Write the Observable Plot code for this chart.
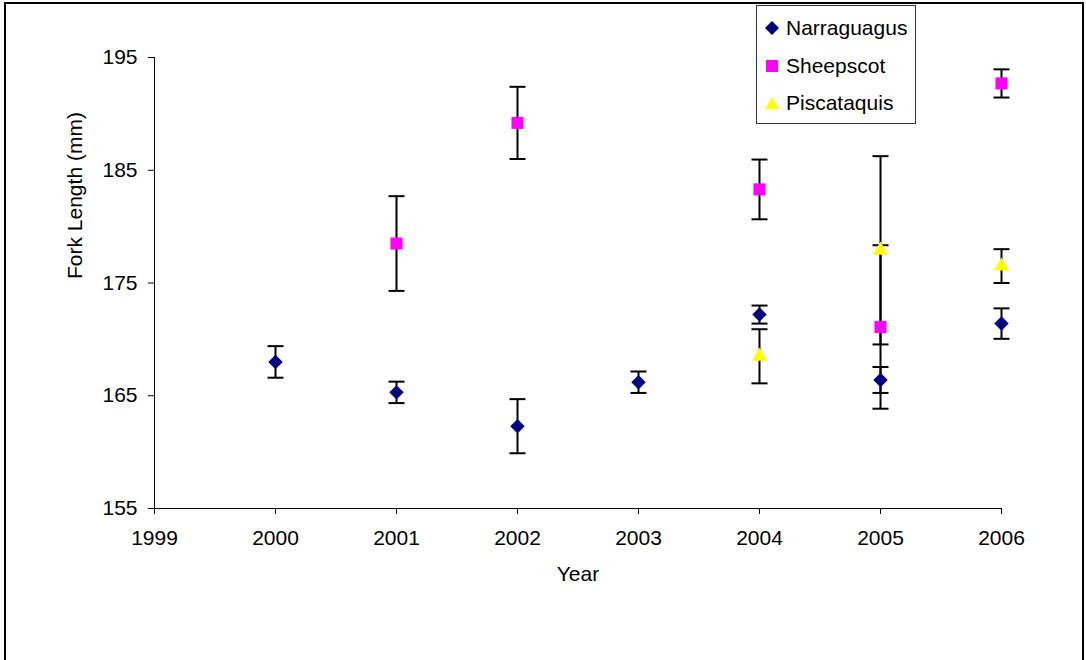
<!DOCTYPE html>
<html>
<head>
<meta charset="utf-8">
<script src="https://cdn.jsdelivr.net/npm/d3@7"></script>
<script src="https://cdn.jsdelivr.net/npm/@observablehq/plot@0.6"></script>
<style>
  html, body { margin: 0; padding: 0; background: #fff; }
  body { width: 1086px; height: 660px; position: relative; overflow: hidden; font-family: "Liberation Sans", Arial, sans-serif; }
  #chart { position: absolute; left: 0; top: 0; }
  #frame { position: absolute; left: 4px; top: 2px; width: 1076px; height: 700px; border: 2px solid #000; pointer-events: none; }
  #legend { position: absolute; left: 756px; top: 5px; width: 158px; height: 117px; border: 1px solid #333; background: #fff; }
  .item { position: absolute; left: 0; height: 26px; display: flex; align-items: center; font-size: 21px; color: #000; white-space: nowrap; }
  .item svg { margin-left: 8px; margin-right: 7px; }
</style>
</head>
<body>
<div id="chart"></div>
<div id="frame"></div>
<div id="legend"></div>
<script>
// ---- data ----
const xTicks = [1999, 2000, 2001, 2002, 2003, 2004, 2005, 2006];
const yTicks = [155, 165, 175, 185, 195];

const seriesNames = ["Narraguagus", "Sheepscot", "Piscataquis"];
const seriesColors = ["#000080", "#FF00FF", "#FFFF00"];

const narraguagusYears = [2000, 2001, 2002, 2003, 2004, 2005, 2006];
const narraguagus      = [168.0, 165.3, 162.3, 166.2, 172.2, 166.4, 171.4];
const narraguagusErr   = [1.4, 0.95, 2.4, 0.95, 0.8, 1.15, 1.35];

const sheepscotYears = [2001, 2002, 2004, 2005, 2006];
const sheepscot      = [178.5, 189.2, 183.3, 171.1, 192.7];
const sheepscotErr   = [4.2, 3.2, 2.65, 7.25, 1.25];

const piscataquisYears = [2004, 2005, 2006];
const piscataquis      = [168.5, 177.9, 176.5];
const piscataquisErr   = [2.4, 8.35, 1.5];

// ---- build table ----
function rows(name, yrs, vals, errs) {
  return yrs.map((yr, i) => ({series: name, year: yr, value: vals[i], err: errs[i]}));
}
const nData = rows("Narraguagus", narraguagusYears, narraguagus, narraguagusErr);
const sData = rows("Sheepscot", sheepscotYears, sheepscot, sheepscotErr);
const pData = rows("Piscataquis", piscataquisYears, piscataquis, piscataquisErr);
const all = [...nData, ...sData, ...pData];
const caps = all.flatMap(d => [{year: d.year, y: d.value - d.err}, {year: d.year, y: d.value + d.err}]);

const capSymbol = {
  draw(ctx) { ctx.moveTo(-8, 0); ctx.lineTo(8, 0); }
};

const fontFam = "'Liberation Sans', Arial, sans-serif";

const plot = Plot.plot({
  width: 1086,
  height: 660,
  marginLeft: 154,
  marginRight: 85,
  marginTop: 57,
  marginBottom: 152,
  style: {fontFamily: fontFam, fontSize: "21px", color: "#000", background: "transparent", overflow: "visible"},
  x: {domain: [1999, 2006]},
  y: {domain: [155, 195]},
  marks: [
    Plot.ruleX([1999], {stroke: "#000", strokeWidth: 1}),
    Plot.ruleY([155], {stroke: "#000", strokeWidth: 1}),
    Plot.axisY({ticks: yTicks, tickSize: 6, tickPadding: 11, label: null, stroke: "#000", fontSize: 21}),
    Plot.axisX({ticks: xTicks, tickFormat: "d", tickSize: 6, tickPadding: 16, label: null, stroke: "#000", fontSize: 21}),
    Plot.text(["Fork Length (mm)"], {frameAnchor: "left", dx: -79, dy: -4, rotate: -90, fontSize: 21, fill: "#000"}),
    Plot.text(["Year"], {frameAnchor: "bottom", dy: 72, fontSize: 21, fill: "#000"}),
    Plot.ruleX(all, {x: "year", y1: d => d.value - d.err, y2: d => d.value + d.err, stroke: "#000", strokeWidth: 2}),
    Plot.dot(caps, {x: "year", y: "y", symbol: capSymbol, r: 5, stroke: "#000", strokeWidth: 2, fill: "none"}),
    Plot.dot(nData, {x: "year", y: "value", symbol: "diamond2", r: 6.5, fill: seriesColors[0], stroke: "none"}),
    Plot.dot(sData, {x: "year", y: "value", symbol: "square", r: 6.8, fill: seriesColors[1], stroke: "none"}),
    Plot.dot(pData, {x: "year", y: "value", symbol: "triangle", r: 5.6, fill: seriesColors[2], stroke: "none"})
  ]
});
document.getElementById("chart").appendChild(plot);

// ---- legend ----
const shapes = [
  '<polygon points="7,0 14,7 7,14 0,7" fill="' + seriesColors[0] + '"/>',
  '<rect x="1" y="1" width="12" height="12" fill="' + seriesColors[1] + '"/>',
  '<polygon points="7,1 14,13 0,13" fill="' + seriesColors[2] + '"/>'
];
const legendTops = [9, 47, 84];
const legend = document.getElementById("legend");
seriesNames.forEach((name, i) => {
  const div = document.createElement("div");
  div.className = "item";
  div.style.top = legendTops[i] + "px";
  div.innerHTML = '<svg width="14" height="14">' + shapes[i] + '</svg><span>' + name + '</span>';
  legend.appendChild(div);
});
</script>
</body>
</html>
